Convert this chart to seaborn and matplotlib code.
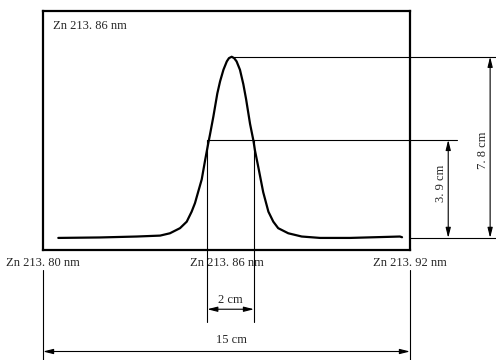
import numpy as np
import pandas as pd
import matplotlib
matplotlib.use('Agg')
import matplotlib.pyplot as plt
import seaborn as sns

# ================= data =================
# wavelength (nm) and recorder deflection (cm) of the Zn 213.86 nm line
WAVELENGTH = [213.8050, 213.8186, 213.8306, 213.8383, 213.8415, 213.8448, 213.8470,
              213.8486, 213.8497, 213.8503, 213.8519, 213.8530, 213.8540, 213.8546,
              213.8557, 213.8570, 213.8579, 213.8590, 213.8601, 213.8608, 213.8617,
              213.8625, 213.8633, 213.8644, 213.8655, 213.8664, 213.8677, 213.8688,
              213.8693, 213.8704, 213.8720, 213.8737, 213.8753, 213.8769, 213.8802,
              213.8846, 213.8906, 213.9004, 213.9167, 213.9174]
DEFLECTION = [0.00, 0.02, 0.06, 0.10, 0.20, 0.42, 0.70,
              1.13, 1.50, 1.78, 2.52, 3.34, 4.05, 4.45,
              5.22, 6.22, 6.74, 7.24, 7.60, 7.74, 7.80,
              7.74, 7.60, 7.24, 6.62, 5.98, 4.91, 4.19,
              3.77, 3.05, 1.97, 1.13, 0.70, 0.42, 0.20,
              0.06, 0.00, 0.00, 0.06, 0.03]

TICKS = [213.80, 213.86, 213.92]
TICK_LABELS = ['Zn 213. 80 nm', 'Zn 213. 86 nm', 'Zn 213. 92 nm']
LINE_LABEL = 'Zn 213. 86 nm'

PEAK_X = 213.8617
PEAK_H = 7.8           # cm
HALF_LINE = 4.22       # level of the half-height line as drawn
HALF_LABEL = '3. 9 cm'
PEAK_LABEL = '7. 8 cm'
FWHM_L, FWHM_R = 213.8537, 213.8690
FWHM_LABEL = '2 cm'
SPAN_LABEL = '15 cm'
# =============================================================

sns.set_style('white')
plt.rcParams['font.family'] = ['Liberation Serif', 'DejaVu Serif']
FS = 9

fig = plt.figure(figsize=(4.96, 3.6), dpi=100)
ax = fig.add_axes([43 / 496, 1 - 250 / 360, 367 / 496, 239 / 360])

df = pd.DataFrame({'wl': WAVELENGTH, 'h': DEFLECTION})
sns.lineplot(data=df, x='wl', y='h', sort=False, estimator=None,
             color='black', lw=1.6, ax=ax,
             solid_joinstyle='round', solid_capstyle='round')

ax.set_xlim(213.80, 213.92)
ax.set_ylim(-0.52, 9.77)
ax.set_xlabel('')
ax.set_ylabel('')
ax.set_yticks([])
ax.set_xticks(TICKS)
ax.set_xticklabels(TICK_LABELS, fontsize=FS)
ax.tick_params(axis='x', length=0, pad=5)
for s in ax.spines.values():
    s.set_color('black')
    s.set_linewidth(1.6)

ax.text(0.027, 0.937, LINE_LABEL, transform=ax.transAxes, fontsize=FS,
        ha='left', va='center')

thin = dict(color='black', lw=0.8, clip_on=False)
x_edge = 213.9481
y_low = -5.4

# extension lines
ax.plot([PEAK_X, x_edge], [PEAK_H, PEAK_H], **thin)
ax.plot([FWHM_L, 213.9354], [HALF_LINE, HALF_LINE], **thin)
ax.plot([TICKS[-1], x_edge], [0.0, 0.0], **thin)
for xv in (FWHM_L, FWHM_R):
    ax.plot([xv, xv], [HALF_LINE, -3.60], **thin)
for xv in (TICKS[0], TICKS[-1]):
    ax.plot([xv, xv], [-1.38, y_low], **thin)

arrow = dict(arrowstyle='<|-|>,head_length=0.6,head_width=0.15',
             color='black', lw=0.8, shrinkA=0, shrinkB=0)


def dim(x0, y0, x1, y1):
    ax.annotate('', xy=(x0, y0), xytext=(x1, y1), xycoords='data',
                arrowprops=arrow, annotation_clip=False)


# vertical dimensions
dim(213.9325, HALF_LINE, 213.9325, 0.0)
ax.text(213.9300, 2.35, HALF_LABEL, rotation=90, ha='center', va='center',
        fontsize=FS, clip_on=False)
dim(213.9462, PEAK_H, 213.9462, 0.0)
ax.text(213.9438, 3.79, PEAK_LABEL, rotation=90, ha='center', va='center',
        fontsize=FS, clip_on=False)

# horizontal dimensions
dim(FWHM_L, -3.07, FWHM_R, -3.07)
ax.text(213.8613, -2.67, FWHM_LABEL, ha='center', va='center', fontsize=FS,
        clip_on=False)
dim(TICKS[0], -4.89, TICKS[-1], -4.89)
ax.text(213.8617, -4.39, SPAN_LABEL, ha='center', va='center', fontsize=FS,
        clip_on=False)

fig.savefig('out.png', dpi=100)
